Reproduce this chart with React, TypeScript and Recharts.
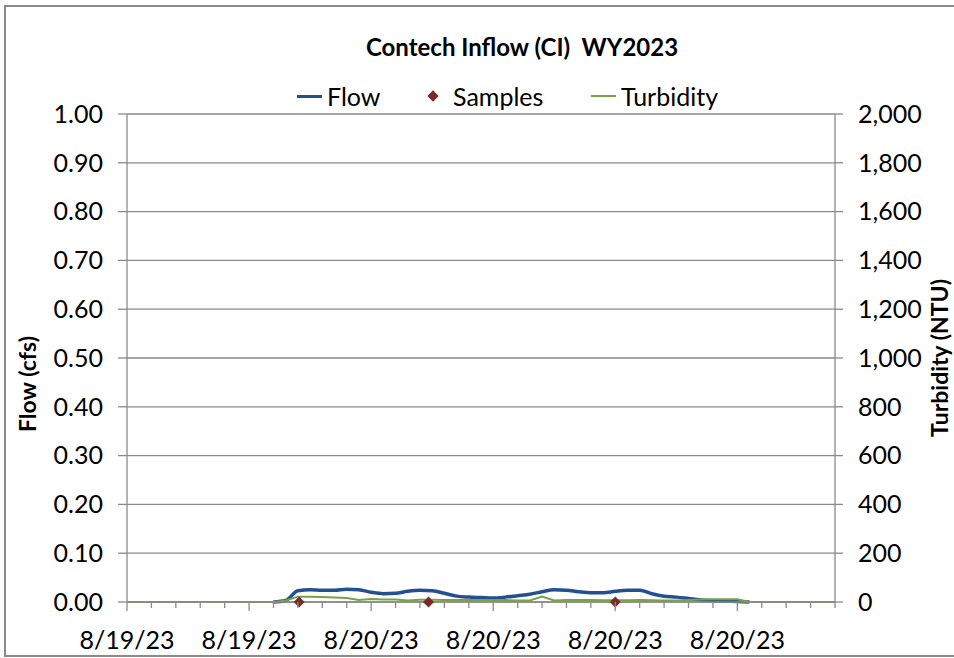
import React from "react";
import { ComposedChart, Line, Scatter, XAxis, YAxis, CartesianGrid } from "recharts";

// time axis in "tick" units (one minor tick per unit), half-unit steps
const times = [
  0, 0.5, 1, 1.5, 2, 2.5, 3, 3.5, 4, 4.5, 5, 5.5, 6, 6.5, 7, 7.5, 8, 8.5, 9, 9.5,
  10, 10.5, 11, 11.5, 12, 12.5, 13, 13.5, 14, 14.5, 15, 15.5, 16, 16.5, 17, 17.5, 18, 18.5, 19, 19.5,
  20, 20.5, 21, 21.5, 22, 22.5, 23, 23.5, 24, 24.5, 25, 25.5, 26, 26.5, 27, 27.5, 28, 28.5, 29,
];

// Flow (cfs) – only recorded during the event
const flow: (number | null)[] = [
  null, null, null, null, null, null, null, null, null, null, null, null,
  0, 0.003, 0.023, 0.025, 0.024, 0.024, 0.026, 0.025,
  0.02, 0.017, 0.018, 0.022, 0.024, 0.023, 0.018, 0.012, 0.01, 0.009,
  0.008, 0.01, 0.013, 0.016, 0.021, 0.025, 0.024, 0.021, 0.019, 0.019,
  0.022, 0.024, 0.024, 0.017, 0.012, 0.01, 0.007, 0.004, 0.003, 0.002,
  0.001, 0, null, null, null, null, null, null, null,
];

// Turbidity (NTU)
const turbidity = [
  0, 0, 0, 0, 0, 0, 0, 0, 0, 0, 0, 0,
  0, 6, 22, 22, 20, 18, 16, 8,
  12, 10, 10, 6, 9, 9, 8, 8, 8, 8,
  8, 8, 6, 6, 22, 6, 8, 8, 8, 7,
  7, 7, 8, 7, 6, 6, 8, 10, 11, 11,
  11, 0, 0, 0, 0, 0, 0, 0, 0,
];

const sampleTimes = [7.05, 12.35, 20.0];
const sampleValues = [0, 0, 0];

const xTicks = [0, 1, 2, 3, 4, 5, 6, 7, 8, 9, 10, 11, 12, 13, 14, 15, 16, 17, 18, 19, 20, 21, 22, 23, 24, 25, 26, 27, 28, 29];
const xLabels = ["8/19/23", "8/19/23", "8/20/23", "8/20/23", "8/20/23", "8/20/23"];
const flowTicks = [0, 0.1, 0.2, 0.3, 0.4, 0.5, 0.6, 0.7, 0.8, 0.9, 1.0];
const turbTicks = [0, 200, 400, 600, 800, 1000, 1200, 1400, 1600, 1800, 2000];

const data = times.map((t, i) => ({ t, flow: flow[i], turb: turbidity[i] }));
const samples = sampleTimes.map((t, i) => ({ t, v: sampleValues[i] }));

const GREY = "#8a8a8a";
const BLUE = "#25508f";
const GREEN = "#79a33f";
const RED = "#7b2a2a";
const FONT = "Lato, 'Open Sans', sans-serif";

function XTick(props: any) {
  const { x, y, payload } = props;
  const v = payload.value as number;
  const major = v % 5 === 0;
  const label = major ? xLabels[v / 5] : undefined;
  return (
    <g>
      <line x1={x} x2={x} y1={y} y2={y + (major ? 9 : 6)} stroke={GREY} strokeWidth={1.3} />
      {label && (
        <text x={x} y={y + 47} textAnchor="middle" fontSize={25} fontFamily={FONT} fill="#000">
          {label}
        </text>
      )}
    </g>
  );
}

function Diamond(props: any) {
  const { cx, cy } = props;
  const r = 5.5;
  return <polygon points={`${cx},${cy - r} ${cx + r},${cy} ${cx},${cy + r} ${cx - r},${cy}`} fill={RED} />;
}

const abs = (style: React.CSSProperties): React.CSSProperties => ({ position: "absolute", ...style });

export default function App() {
  const tickStyle = { fontSize: 25, fill: "#000", fontFamily: FONT };
  return (
    <div style={abs({ left: 0, top: 0, width: 954, height: 658, overflow: "hidden", background: "#fff", fontFamily: FONT })}>
      <div style={abs({ left: 4, top: 5, width: 980, height: 652, border: `2px solid ${GREY}`, boxSizing: "border-box" })} />

      <ComposedChart width={954} height={658} data={data} margin={{ top: 114, right: 0, left: 0, bottom: 0 }}>
        <CartesianGrid vertical={false} stroke={GREY} strokeWidth={1.3} yAxisId="L" />
        <XAxis
          dataKey="t"
          type="number"
          domain={[0, 29]}
          ticks={xTicks}
          interval={0}
          height={56}
          tickSize={0}
          tickMargin={0}
          tickLine={false}
          axisLine={{ stroke: GREY, strokeWidth: 1.3 }}
          tick={<XTick />}
        />
        <YAxis
          yAxisId="L"
          domain={[0, 1]}
          ticks={flowTicks}
          width={127}
          tickSize={9}
          tickMargin={15}
          tickLine={{ stroke: GREY, strokeWidth: 1.3 }}
          axisLine={{ stroke: GREY, strokeWidth: 1.3 }}
          tick={tickStyle}
          tickFormatter={(v: number) => v.toFixed(2)}
        />
        <YAxis
          yAxisId="R"
          orientation="right"
          domain={[0, 2000]}
          ticks={turbTicks}
          width={119}
          tickSize={8}
          tickMargin={15}
          tickLine={{ stroke: GREY, strokeWidth: 1.3 }}
          axisLine={{ stroke: GREY, strokeWidth: 1.3 }}
          tick={tickStyle}
          tickFormatter={(v: number) => v.toLocaleString("en-US")}
        />
        <Line yAxisId="L" dataKey="flow" type="monotone" stroke={BLUE} strokeWidth={3.5} dot={false} isAnimationActive={false} />
        <Line yAxisId="R" dataKey="turb" type="linear" stroke={GREEN} strokeWidth={2} dot={false} isAnimationActive={false} />
        <Scatter yAxisId="L" data={samples} dataKey="v" shape={<Diamond />} isAnimationActive={false} />
      </ComposedChart>

      <div style={abs({ left: 522, top: 47, transform: "translate(-50%,-50%)", fontSize: 24, fontWeight: 700, whiteSpace: "pre", lineHeight: 1 })}>
        {"Contech Inflow (CI)  WY2023"}
      </div>

      <div style={abs({ left: 297, top: 95, width: 25, height: 3, background: BLUE })} />
      <div style={abs({ left: 327, top: 96, transform: "translateY(-50%)", fontSize: 25, lineHeight: 1 })}>Flow</div>
      <div style={abs({ left: 429, top: 92, width: 8, height: 8, background: RED, transform: "rotate(45deg)" })} />
      <div style={abs({ left: 453, top: 96, transform: "translateY(-50%)", fontSize: 25, lineHeight: 1 })}>Samples</div>
      <div style={abs({ left: 591, top: 95, width: 25, height: 2, background: GREEN })} />
      <div style={abs({ left: 621, top: 96, transform: "translateY(-50%)", fontSize: 25, lineHeight: 1 })}>Turbidity</div>

      <div style={abs({ left: 27, top: 384, transform: "translate(-50%,-50%) rotate(-90deg)", fontSize: 23, fontWeight: 700, whiteSpace: "nowrap", lineHeight: 1 })}>
        Flow (cfs)
      </div>
      <div style={abs({ left: 940, top: 358, transform: "translate(-50%,-50%) rotate(-90deg)", fontSize: 23, fontWeight: 700, whiteSpace: "nowrap", lineHeight: 1.1 })}>
        Turbidity (NTU)
      </div>
    </div>
  );
}
